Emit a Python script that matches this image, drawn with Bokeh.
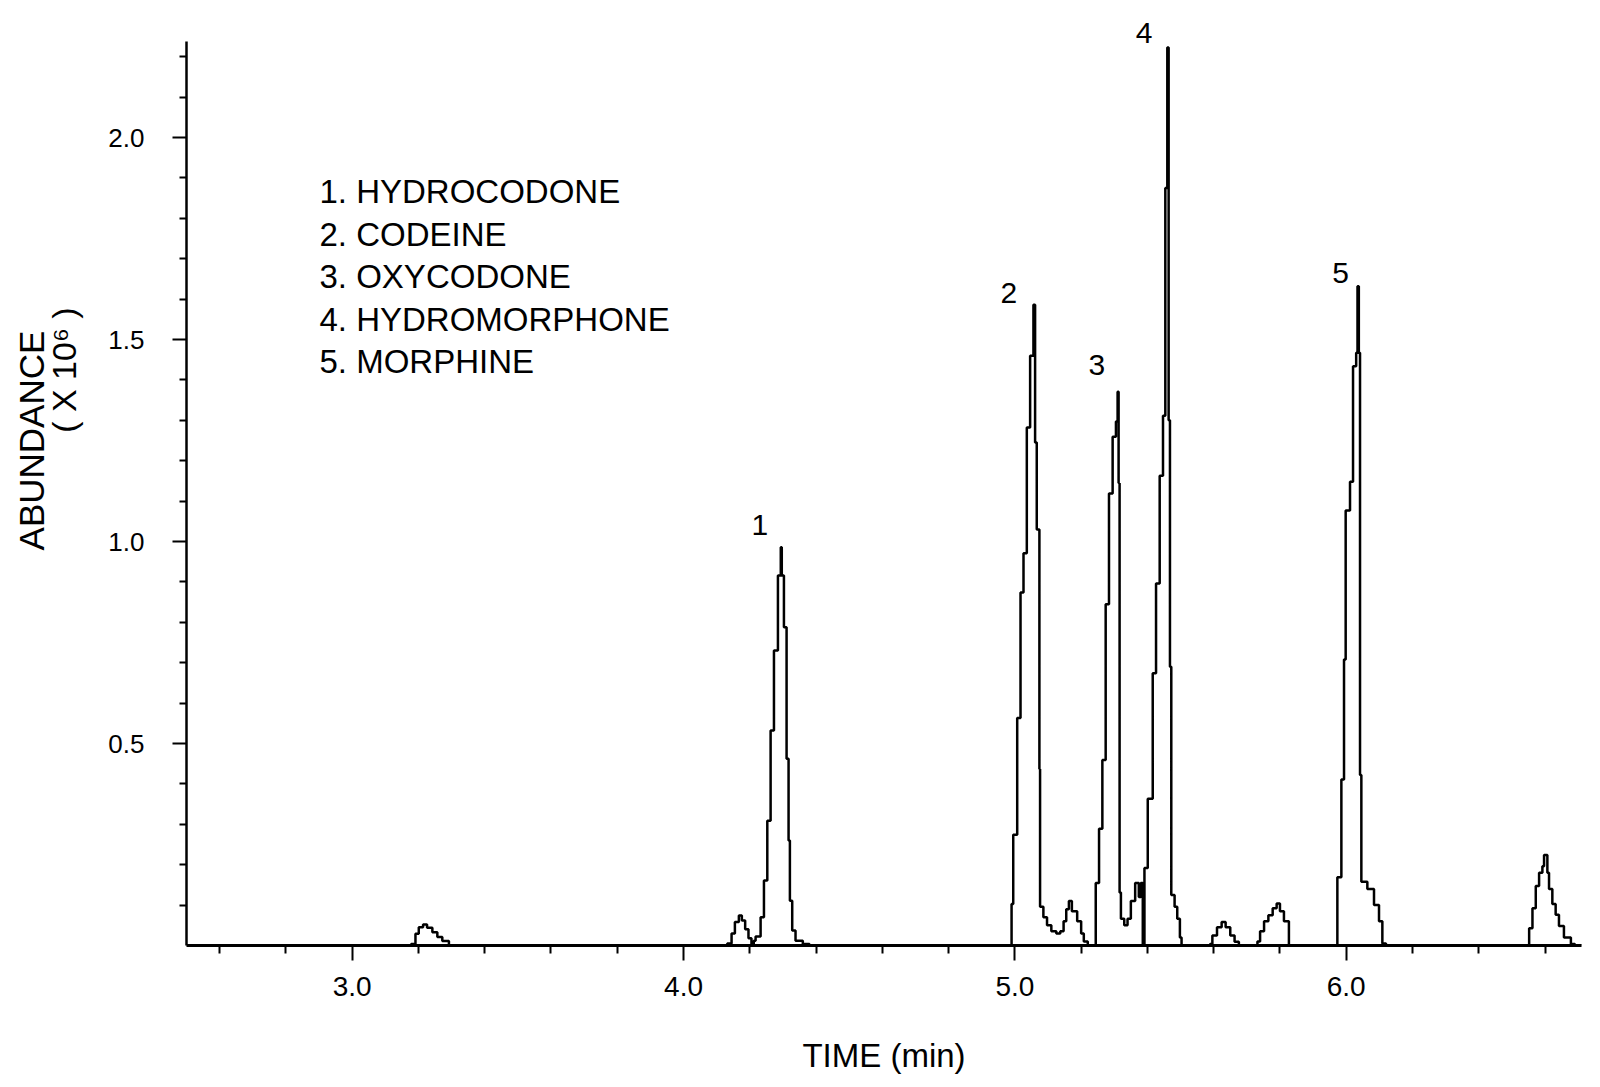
from bokeh.plotting import figure
from bokeh.models import ColumnDataSource, Label, FixedTicker, Range1d
from bokeh.layouts import row
from bokeh.embed import file_html
from bokeh.resources import INLINE
import math

# ---- data (time in min, abundance in x10^6) ----
TIME = [
    2.50,
    3.178, 3.191, 3.201, 3.214, 3.226, 3.242, 3.257, 3.272, 3.292,
    4.132, 4.145, 4.155, 4.167, 4.176, 4.186, 4.196, 4.205, 4.212,
    4.2175, 4.2326, 4.2427, 4.2528, 4.2628, 4.2729, 4.2849, 4.2935, 4.2965,
    4.303, 4.311, 4.317, 4.321, 4.328, 4.338, 4.360, 4.380,
    4.990, 4.995, 5.007, 5.017, 5.026, 5.036, 5.046, 5.056, 5.061, 5.066,
    5.074, 5.076, 5.086, 5.097, 5.110, 5.125, 5.137,
    5.147, 5.155, 5.163, 5.172, 5.188, 5.200, 5.208, 5.220,
    5.244, 5.254, 5.264, 5.274, 5.284, 5.295, 5.305, 5.310, 5.313, 5.316,
    5.320, 5.330, 5.340, 5.350, 5.363, 5.374, 5.380, 5.386,
    5.391, 5.401, 5.416, 5.426, 5.437, 5.447, 5.454, 5.460, 5.464, 5.468,
    5.472, 5.482, 5.490, 5.498, 5.503,
    5.589, 5.596, 5.610, 5.624, 5.636, 5.650, 5.663, 5.676,
    5.732, 5.740, 5.752, 5.765, 5.778, 5.790, 5.800, 5.812, 5.827,
    5.9732, 5.9853, 5.9933, 5.9983, 6.0114, 6.0205, 6.0300, 6.0340, 6.0380,
    6.0416, 6.0456, 6.0637, 6.0838, 6.0989, 6.109, 6.120,
    6.552, 6.562, 6.572, 6.582, 6.592, 6.597, 6.607, 6.612, 6.622, 6.632,
    6.642, 6.657, 6.678, 6.690, 6.710,
]
ABUNDANCE = [
    0.0,
    0.004, 0.029, 0.045, 0.052, 0.044, 0.033, 0.021, 0.011, 0.0,
    0.005, 0.030, 0.058, 0.074, 0.062, 0.040, 0.018, 0.004, 0.012,
    0.022, 0.070, 0.161, 0.309, 0.532, 0.730, 0.916, 0.986, 0.916,
    0.788, 0.462, 0.260, 0.111, 0.037, 0.012, 0.004, 0.0,
    0.103, 0.274, 0.563, 0.874, 0.971, 1.282, 1.460, 1.586, 1.245, 1.030,
    0.437, 0.096, 0.070, 0.050, 0.035, 0.030, 0.035,
    0.060, 0.090, 0.110, 0.085, 0.060, 0.030, 0.010, 0.0,
    0.155, 0.289, 0.459, 0.845, 1.119, 1.259, 1.297, 1.371, 1.145, 0.131,
    0.066, 0.050, 0.066, 0.110, 0.155, 0.120, 0.155, 0.0,
    0.192, 0.363, 0.674, 0.896, 1.163, 1.311, 1.875, 2.223, 1.300, 0.690,
    0.125, 0.096, 0.066, 0.020, 0.0,
    0.004, 0.025, 0.045, 0.058, 0.045, 0.025, 0.009, 0.0,
    0.010, 0.035, 0.060, 0.075, 0.092, 0.104, 0.085, 0.060, 0.0,
    0.169, 0.411, 0.708, 1.077, 1.148, 1.434, 1.467, 1.632, 1.467,
    0.422, 0.158, 0.140, 0.100, 0.060, 0.005, 0.0,
    0.043, 0.092, 0.147, 0.180, 0.196, 0.224, 0.180, 0.140, 0.103, 0.076,
    0.048, 0.020, 0.004, 0.0, 0.0,
]

PEAK_NUMBERS = ["1", "2", "3", "4", "5"]
PEAK_LABEL_TIME = [4.230, 4.982, 5.247, 5.390, 5.983]
PEAK_LABEL_ABUND = [1.040, 1.614, 1.437, 2.258, 1.665]

COMPOUNDS = ["1. HYDROCODONE", "2. CODEINE", "3. OXYCODONE",
             "4. HYDROMORPHONE", "5. MORPHINE"]
LEGEND_ABUND = [1.866, 1.761, 1.657, 1.549, 1.445]

X_MAJOR = [3.0, 4.0, 5.0, 6.0]
X_MINOR = [2.6, 2.8, 3.2, 3.4, 3.6, 3.8, 4.2, 4.4, 4.6, 4.8,
           5.2, 5.4, 5.6, 5.8, 6.2, 6.4, 6.6]
Y_MAJOR = [0.5, 1.0, 1.5, 2.0]
Y_MINOR = [0.1, 0.2, 0.3, 0.4, 0.6, 0.7, 0.8, 0.9, 1.1, 1.2, 1.3, 1.4,
           1.6, 1.7, 1.8, 1.9, 2.1, 2.2]
Y_AXIS_TOP = 2.2376

FONT = "Liberation Sans"
TOTAL_W, TOTAL_H = 1592, 1087
LEFT_W = 90

# ---- narrow strip on the left holding the rotated y-axis title ----
left = figure(width=LEFT_W, height=TOTAL_H, output_backend="svg",
              toolbar_location=None, x_axis_type=None, y_axis_type=None,
              x_range=Range1d(0, LEFT_W), y_range=Range1d(0, TOTAL_H),
              min_border=0)
left.outline_line_color = None
left.xgrid.visible = False
left.ygrid.visible = False
left.add_layout(Label(x=31, y=TOTAL_H - 500, text="ABUNDANCE", text_font=FONT,
                      text_font_size="35px", text_align="center",
                      text_baseline="middle", angle=math.pi / 2,
                      text_color="black"))
left.add_layout(Label(x=63, y=TOTAL_H - 418, text="( X 10\u2076 )",
                      text_font=FONT, text_font_size="34px",
                      text_align="center", text_baseline="middle",
                      angle=math.pi / 2, text_color="black"))

# ---- main chromatogram ----
p = figure(width=TOTAL_W - LEFT_W, height=TOTAL_H, output_backend="svg",
           toolbar_location=None,
           x_range=Range1d(2.5, 6.71), y_range=Range1d(0.0, 2.3144),
           min_border_left=186 - LEFT_W, min_border_right=11,
           min_border_top=10, min_border_bottom=TOTAL_H - 945)
p.outline_line_color = None
p.xgrid.visible = False
p.ygrid.visible = False
p.background_fill_color = "white"

src = ColumnDataSource(dict(t=TIME, a=ABUNDANCE))
p.step(x="t", y="a", source=src, mode="after", line_color="black",
       line_width=2.5)

p.xaxis.ticker = FixedTicker(ticks=X_MAJOR, minor_ticks=X_MINOR)
p.xaxis.major_label_overrides = {v: f"{v:.1f}" for v in X_MAJOR}
p.xaxis.axis_line_width = 3
p.xaxis.major_tick_out = 15
p.xaxis.major_tick_in = 0
p.xaxis.minor_tick_out = 8
p.xaxis.minor_tick_in = 0
p.xaxis.major_tick_line_width = 2
p.xaxis.minor_tick_line_width = 2
p.xaxis.major_label_text_font = FONT
p.xaxis.major_label_text_font_size = "28px"
p.xaxis.major_label_text_color = "black"
p.xaxis.major_label_standoff = 16
p.xaxis.axis_label = "TIME (min)"
p.xaxis.axis_label_text_font = FONT
p.xaxis.axis_label_text_font_size = "33px"
p.xaxis.axis_label_text_font_style = "normal"
p.xaxis.axis_label_text_color = "black"
p.xaxis.axis_label_standoff = 38

p.yaxis.ticker = FixedTicker(ticks=Y_MAJOR, minor_ticks=Y_MINOR)
p.yaxis.major_label_overrides = {v: f"{v:.1f}" for v in Y_MAJOR}
p.yaxis.bounds = (0.0, Y_AXIS_TOP)
p.yaxis.axis_line_width = 2.5
p.yaxis.major_tick_out = 14
p.yaxis.major_tick_in = 0
p.yaxis.minor_tick_out = 7
p.yaxis.minor_tick_in = 0
p.yaxis.major_tick_line_width = 2
p.yaxis.minor_tick_line_width = 2
p.yaxis.major_label_text_font = FONT
p.yaxis.major_label_text_font_size = "26px"
p.yaxis.major_label_text_color = "black"
p.yaxis.major_label_standoff = 28

for name, yy in zip(COMPOUNDS, LEGEND_ABUND):
    p.add_layout(Label(x=2.9014, y=yy, text=name, text_font=FONT,
                       text_font_size="33px", text_align="left",
                       text_baseline="middle", text_color="black"))

for num, tx, ay in zip(PEAK_NUMBERS, PEAK_LABEL_TIME, PEAK_LABEL_ABUND):
    p.add_layout(Label(x=tx, y=ay, text=num, text_font=FONT,
                       text_font_size="30px", text_align="center",
                       text_baseline="middle", text_color="black"))

layout = row(left, p)
open("out.html", "w").write(file_html(layout, INLINE))
